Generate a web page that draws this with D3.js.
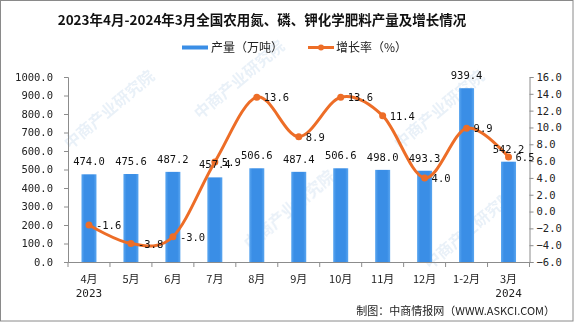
<!DOCTYPE html>
<html>
<head>
<meta charset="utf-8">
<script src="https://cdn.jsdelivr.net/npm/d3@7"></script>
<style>
  html, body { margin: 0; padding: 0; background: #fff; }
  svg { display: block; }
</style>
</head>
<body>
<svg id="chart" width="576" height="326"></svg>
<script>
// Monthly output of nitrogen, phosphate and potash fertilizer (10k tonnes) and YoY growth (%)
const categories = ["4月", "5月", "6月", "7月", "8月", "9月", "10月", "11月", "12月", "1-2月", "3月"];
const yearLabels = ["2023", "", "", "", "", "", "", "", "", "", "2024"];
const output = [474.0, 475.6, 487.2, 457.4, 506.6, 487.4, 506.6, 498.0, 493.3, 939.4, 542.2];
const growth = [-1.6, -3.8, -3.0, 5.9, 13.6, 8.9, 13.6, 11.4, 4.0, 9.9, 6.5];
const leftTicks = [0, 100, 200, 300, 400, 500, 600, 700, 800, 900, 1000];
const rightTicks = [-6, -4, -2, 0, 2, 4, 6, 8, 10, 12, 14, 16];

const svg = d3.select("#chart");
const plot = { left: 68, right: 529.5, top: 77, bottom: 262 };
const numFont = "'DejaVu Sans Mono', 'Liberation Mono', monospace";
const cjkFont = "'Noto Sans CJK SC', 'Noto Sans', sans-serif";
const axisGrey = "#8c8c8c";
const barBlue = "#3a8ee6";
const lineOrange = "#ed6d27";

// outer frame
svg.append("rect").attr("x", 0.5).attr("y", 0.5).attr("width", 572.5).attr("height", 320.5)
  .attr("fill", "#fff").attr("stroke", "#8a8a8a").attr("stroke-width", 1);

// faint watermark
const wm = svg.append("g").attr("opacity", 0.12).attr("fill", "#4a86c5")
  .style("font-family", cjkFont).style("font-size", "16px").style("font-weight", "bold");
[[70, 150], [200, 120], [250, 250], [400, 150], [430, 270]].forEach(([x, y]) => {
  wm.append("text").attr("transform", `translate(${x},${y}) rotate(-40)`).text("中商产业研究院");
});

const x = d3.scaleBand().domain(categories).range([plot.left, plot.right]).paddingInner(0).paddingOuter(0);
const yL = d3.scaleLinear().domain([0, 1000]).range([plot.bottom, plot.top]);
const yR = d3.scaleLinear().domain([-6, 16]).range([plot.bottom, plot.top]);

// bar gradient
const defs = svg.append("defs");
const grad = defs.append("linearGradient").attr("id", "barGrad").attr("x1", "0").attr("x2", "1").attr("y1", "0").attr("y2", "0");
grad.append("stop").attr("offset", "0").attr("stop-color", "#5aa6f0");
grad.append("stop").attr("offset", "0.2").attr("stop-color", barBlue);
grad.append("stop").attr("offset", "0.8").attr("stop-color", barBlue);
grad.append("stop").attr("offset", "1").attr("stop-color", "#5aa6f0");

// title
svg.append("text").attr("x", 262).attr("y", 25).attr("text-anchor", "middle")
  .style("font-family", cjkFont).style("font-weight", "bold").style("font-size", "13.5px").attr("fill", "#111")
  .text("2023年4月-2024年3月全国农用氮、磷、钾化学肥料产量及增长情况");

// legend
const lg = svg.append("g").style("font-family", cjkFont).style("font-size", "12px").attr("fill", "#222");
lg.append("rect").attr("x", 182).attr("y", 45.5).attr("width", 26).attr("height", 4).attr("fill", barBlue);
lg.append("text").attr("x", 211).attr("y", 52).text("产量（万吨）");
lg.append("line").attr("x1", 308).attr("x2", 334).attr("y1", 47.5).attr("y2", 47.5).attr("stroke", lineOrange).attr("stroke-width", 3);
lg.append("circle").attr("cx", 321).attr("cy", 47.5).attr("r", 3).attr("fill", lineOrange);
lg.append("text").attr("x", 336).attr("y", 52).text("增长率（%）");

// axes
const leftAxis = d3.axisLeft(yL).tickValues(leftTicks).tickSize(4).tickPadding(11).tickFormat(d3.format(".1f"));
const gL = svg.append("g").attr("transform", `translate(${plot.left},0)`).call(leftAxis);
const rightAxis = d3.axisRight(yR).tickValues(rightTicks).tickSize(4).tickPadding(3).tickFormat(d3.format(".1f"));
const gR = svg.append("g").attr("transform", `translate(${plot.right},0)`).call(rightAxis);
const xAxis = d3.axisBottom(x).tickSize(0).tickPadding(13);
const gX = svg.append("g").attr("transform", `translate(0,${plot.bottom})`).call(xAxis);

[gL, gR, gX].forEach(g => {
  g.select(".domain").attr("stroke", axisGrey);
  g.selectAll(".tick line").attr("stroke", axisGrey);
  g.selectAll("text").style("font-family", numFont).style("font-size", "10.5px").attr("fill", "#222");
});
gX.selectAll("text").style("font-family", cjkFont).style("font-size", "11px");
gX.selectAll(".tick").append("text").attr("y", 35).attr("fill", "#222").attr("text-anchor", "middle")
  .style("font-family", numFont).style("font-size", "11px")
  .text((d, i) => yearLabels[i]);
// category separator ticks on the x axis
const bounds = categories.map(c => x(c)).concat([plot.right]);
gX.selectAll(".sep").data(bounds).enter().append("line").attr("class", "sep")
  .attr("x1", d => d).attr("x2", d => d).attr("y1", 0).attr("y2", 5).attr("stroke", axisGrey);

// bars
const barW = 15;
svg.append("g").selectAll("rect").data(output).enter().append("rect")
  .attr("x", (d, i) => x(categories[i]) + x.bandwidth() / 2 - barW / 2)
  .attr("y", d => yL(d)).attr("width", barW).attr("height", d => plot.bottom - yL(d))
  .attr("fill", "url(#barGrad)");

// smoothed growth line
const cx = i => x(categories[i]) + x.bandwidth() / 2;
const line = d3.line().x((d, i) => cx(i)).y(d => yR(d)).curve(d3.curveCardinal.tension(0));
svg.append("path").datum(growth).attr("d", line).attr("fill", "none")
  .attr("stroke", lineOrange).attr("stroke-width", 3).attr("stroke-linejoin", "round");
svg.append("g").selectAll("circle").data(growth).enter().append("circle")
  .attr("cx", (d, i) => cx(i)).attr("cy", d => yR(d)).attr("r", 3.5).attr("fill", lineOrange);

// bar labels
svg.append("g").selectAll("text").data(output).enter().append("text")
  .attr("x", (d, i) => cx(i)).attr("y", d => yL(d) - 9).attr("text-anchor", "middle")
  .style("font-family", numFont).style("font-size", "10.5px").attr("fill", "#111")
  .text(d => d.toFixed(1));

// growth labels
svg.append("g").selectAll("text").data(growth).enter().append("text")
  .attr("x", (d, i) => cx(i) + 7).attr("y", d => yR(d) + 4)
  .style("font-family", numFont).style("font-size", "10.5px").attr("fill", "#111")
  .text(d => d.toFixed(1));

// source
svg.append("text").attr("x", 555).attr("y", 315).attr("text-anchor", "end")
  .style("font-family", cjkFont).style("font-size", "11px").attr("fill", "#222")
  .text("制图：中商情报网（WWW.ASKCI.COM）");
</script>
</body>
</html>
